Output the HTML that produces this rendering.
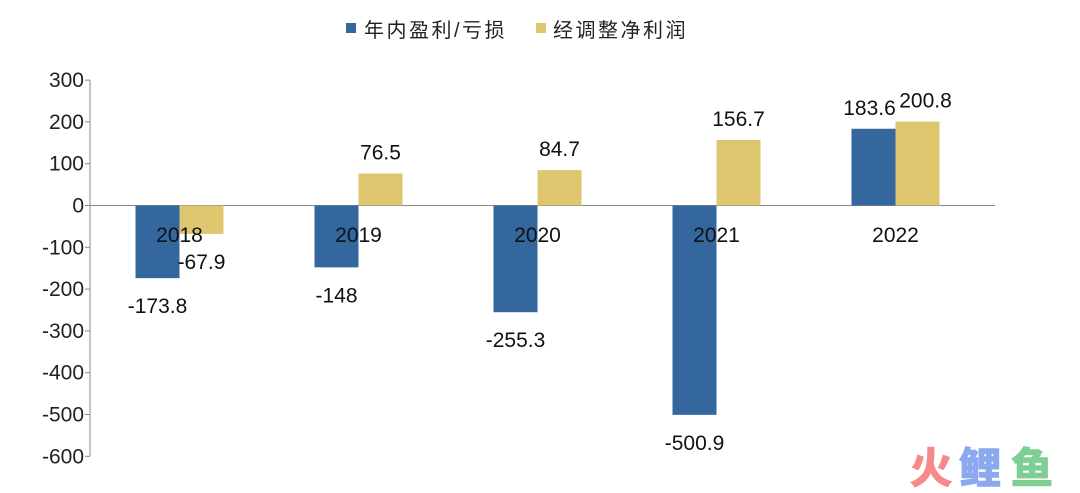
<!DOCTYPE html>
<html><head><meta charset="utf-8"><style>
body{margin:0;background:#fff;}
svg{display:block;font-family:"Liberation Sans","Noto Sans CJK SC",sans-serif;}
</style></head><body>
<svg id="chart" width="1080" height="493">
<g>
<rect x="346" y="23" width="10" height="10" fill="#33679e"/>
<text x="364" y="37" font-size="20" letter-spacing="2.5" fill="#222">年内盈利/亏损</text>
<rect x="536" y="23" width="10" height="10" fill="#ddc66d"/>
<text x="553" y="37" font-size="20" letter-spacing="2.5" fill="#222">经调整净利润</text>
</g>
<g id="yaxis"></g>
<g id="bars"></g>
<g id="labels"></g>
<g font-size="42" font-weight="bold">
<text x="910" y="483" fill="#f58a8a" stroke="#f58a8a" stroke-width="1.5">火</text>
<text x="959" y="483" fill="#8aa9ee" stroke="#8aa9ee" stroke-width="1.5">鲤</text>
<text x="1011" y="483" fill="#7fcf95" stroke="#7fcf95" stroke-width="1.5">鱼</text>
</g>
</svg>
<script>
const categories=["2018","2019","2020","2021","2022"];
const profit=[-173.8,-148,-255.3,-500.9,183.6];
const adjusted=[-67.9,76.5,84.7,156.7,200.8];
const ticks=[300,200,100,0,-100,-200,-300,-400,-500,-600];
const NS="http://www.w3.org/2000/svg";
const x0=90,step=179,bw=44;
function y(v){return 205.5-v*0.418;}
function cx(i){return x0+step/2+step*i;}
function mk(tag,attrs,parent,txt){const e=document.createElementNS(NS,tag);for(const k in attrs)e.setAttribute(k,attrs[k]);if(txt!==undefined)e.textContent=txt;parent.appendChild(e);return e;}
const ya=document.getElementById('yaxis'),bars=document.getElementById('bars'),lab=document.getElementById('labels');
let ax=mk('line',{x1:x0,x2:x0,y1:y(300),y2:y(-600),stroke:'#888','stroke-width':1},ya);


ticks.forEach(t=>{
 const l=mk('line',{x1:x0-5,x2:x0,y1:y(t),y2:y(t),stroke:'#888'},ya);
 
 
 const tx=mk('text',{x:x0-6,y:y(t)+7,'text-anchor':'end','font-size':21,fill:'#222'},ya,String(t));
 
 
});
categories.forEach((c,i)=>{
 [[profit[i],'#33679e',-bw,'bar-profit'],[adjusted[i],'#ddc66d',0,'bar-adjusted']].forEach(([v,col,off,nm],k)=>{
  const yy=Math.min(y(v),y(0)),h=Math.abs(y(v)-y(0));
  const r=mk('rect',{x:cx(i)+off,y:yy,width:bw,height:h,fill:col},bars);
  
  
  const ly=v<0?y(v)+35:y(v)-14;
  const sh=(profit[i]>0&&adjusted[i]>0)?(k==0?-4:8):0;
  const t=mk('text',{x:cx(i)+off+bw/2+sh,y:ly,'text-anchor':'middle','font-size':21,fill:'#111'},lab,String(v));
  
  
 });
 const ct=mk('text',{x:cx(i),y:242,'text-anchor':'middle','font-size':21,fill:'#111'},lab,c);
 
 
});
const zl=mk('line',{x1:x0,x2:x0+step*5+10,y1:y(0),y2:y(0),stroke:'#888'},ya);


</script>
</body></html>
